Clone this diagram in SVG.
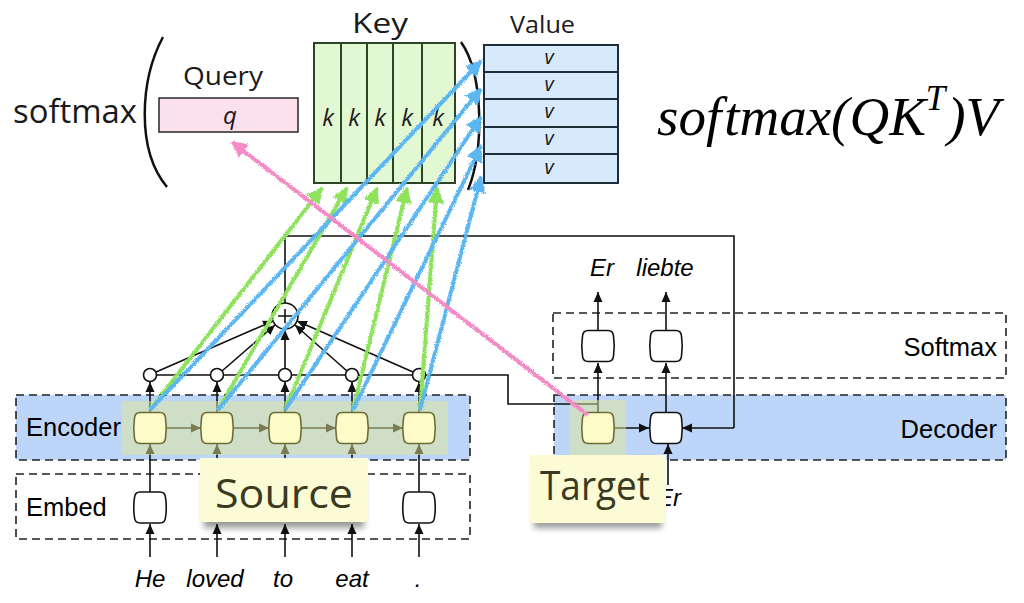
<svg xmlns="http://www.w3.org/2000/svg" width="1024" height="603" viewBox="0 0 1024 603">
<style>
.hand{font-family:"Open Sans","DejaVu Sans",sans-serif;fill:#1a1a1a}
.lbl{font-family:"Liberation Sans",Arial,sans-serif;font-size:25.5px;fill:#000}
.word{font-family:"Liberation Sans",Arial,sans-serif;font-style:italic;font-size:24px;fill:#000;text-anchor:middle}
.dash{fill:none;stroke:#222;stroke-width:1.6;stroke-dasharray:8 5}
.ln{fill:none;stroke:#111;stroke-width:1.6}
.arr{fill:none;stroke:#111;stroke-width:1.6;marker-end:url(#ah)}
.ycell{fill:#fdfcc9;stroke:#6b6b35;stroke-width:1.6}
.wcell{fill:#fff;stroke:#111;stroke-width:1.6}
.hl{fill:rgb(225,232,150);fill-opacity:0.5}
.sc{fill:#fff;stroke:#111;stroke-width:1.6}
.note{fill:#fbfbd6}
.notetext{font-family:"Open Sans","DejaVu Sans",sans-serif;font-size:40px;fill:#3a3a22}
.g{stroke:#8ee25c;stroke-width:4;fill:none;marker-end:url(#mg)}
.b{stroke:#5cb6f2;stroke-width:4;fill:none;marker-end:url(#mb)}
.p{stroke:#f48bc6;stroke-width:4;fill:none;marker-end:url(#mp)}
</style>
<defs>
<path id="cell" d="M-10,-15.5 H10 Q15,-15.5 15.5,-10 Q17,0 15.5,10 Q15,15.5 10,15.5 H-10 Q-15,15.5 -15.5,10 Q-17,0 -15.5,-10 Q-15,-15.5 -10,-15.5 Z"/>
<marker id="ah" viewBox="0 0 10 10" refX="10" refY="5" markerWidth="10" markerHeight="11" markerUnits="userSpaceOnUse" orient="auto"><path d="M0,0.5 L10,5 L0,9.5 Z" fill="#111"/></marker>
<marker id="mg" viewBox="0 0 10 10" refX="9" refY="5" markerWidth="4.2" markerHeight="4.2" orient="auto"><path d="M0,0 L10,5 L0,10 Z" fill="#8ee25c"/></marker>
<marker id="mb" viewBox="0 0 10 10" refX="9" refY="5" markerWidth="4.2" markerHeight="4.2" orient="auto"><path d="M0,0 L10,5 L0,10 Z" fill="#5cb6f2"/></marker>
<marker id="mp" viewBox="0 0 10 10" refX="9" refY="5" markerWidth="4.2" markerHeight="4.2" orient="auto"><path d="M0,0 L10,5 L0,10 Z" fill="#f48bc6"/></marker>
<filter id="crayon" filterUnits="userSpaceOnUse" x="0" y="0" width="1024" height="603">
<feTurbulence type="fractalNoise" baseFrequency="0.9" numOctaves="2" result="n"/>
<feDisplacementMap in="SourceGraphic" in2="n" scale="3.5" xChannelSelector="R" yChannelSelector="G"/>
</filter>
<filter id="shadow" x="-20%" y="-20%" width="140%" height="160%"><feGaussianBlur stdDeviation="3"/></filter>
</defs>
<rect width="1024" height="603" fill="#fff"/>

<g id="softmax-hand">
<text class="hand" x="13" y="123" font-size="32" textLength="124" lengthAdjust="spacingAndGlyphs">softmax</text>
<path d="M163,37 C140,80 136,150 167,187" fill="none" stroke="#111" stroke-width="2.5"/>
<path d="M461,42 C484,75 484,150 468,190" fill="none" stroke="#111" stroke-width="2.5"/>
</g>

<g id="query">
<text class="hand" x="183" y="85" font-size="26" textLength="80" lengthAdjust="spacingAndGlyphs">Query</text>
<rect x="159" y="98" width="139" height="34" fill="#fde0ee" stroke="#333" stroke-width="1.6"/>
<text class="hand" x="230" y="124" font-size="24" font-style="italic" text-anchor="middle">q</text>
</g>

<g id="key">
<text class="hand" x="352" y="33" font-size="28" textLength="56" lengthAdjust="spacingAndGlyphs">Key</text>
<rect x="314" y="43" width="141" height="140" fill="#e2f8d2" stroke="#2b4525" stroke-width="2"/>
<path d="M341,43 V183 M367,43 V183 M393,43 V183 M422,43 V183" stroke="#2b4525" stroke-width="2" fill="none"/>
<g class="hand" font-size="24" font-style="italic" text-anchor="middle" fill="#2b4525">
<text x="328" y="126">k</text><text x="354" y="126">k</text><text x="380" y="126">k</text><text x="407" y="126">k</text><text x="438" y="126">k</text>
</g>
</g>

<g id="value">
<text class="hand" x="510" y="33" font-size="24" textLength="65" lengthAdjust="spacingAndGlyphs">Value</text>
<rect x="484" y="45" width="134" height="138" fill="#d6eafb" stroke="#1e2d3a" stroke-width="2"/>
<path d="M484,72 H618 M484,99 H618 M484,127 H618 M484,154 H618" stroke="#1e2d3a" stroke-width="2" fill="none"/>
<g class="hand" font-size="20" font-style="italic" text-anchor="middle" fill="#1e2d3a">
<text x="549" y="64">v</text><text x="549" y="91">v</text><text x="549" y="118">v</text><text x="549" y="145">v</text><text x="549" y="174">v</text>
</g>
</g>

<g id="formula">
<text x="657" y="135" font-family="'Liberation Serif','Times New Roman',serif" font-style="italic" font-size="55" fill="#000">sof<tspan dx="3">tmax(QK</tspan><tspan font-size="35" dy="-25">T</tspan><tspan dy="25" dx="2">)V</tspan></text>
</g>

<g id="layers">
<rect id="encoder-layer" x="16" y="395" width="454" height="65" fill="#bcd5f8"/>
<rect x="16" y="395" width="454" height="65" class="dash"/>
<rect id="embed-layer" x="16" y="474" width="454" height="65" class="dash"/>
<rect id="softmax-layer" x="553" y="313" width="453" height="65" class="dash"/>
<rect id="decoder-layer" x="554" y="395" width="452" height="65" fill="#bcd5f8"/>
<rect x="554" y="395" width="452" height="65" class="dash"/>
<text class="lbl" x="26" y="436">Encoder</text>
<text class="lbl" x="26" y="516">Embed</text>
<text class="lbl" x="997" y="356" text-anchor="end">Softmax</text>
<text class="lbl" x="997" y="438" text-anchor="end">Decoder</text>
</g>

<g id="connectors">
<path class="arr" d="M150,557 V524"/>
<path class="arr" d="M217,557 V524"/>
<path class="arr" d="M285,557 V524"/>
<path class="arr" d="M352,557 V524"/>
<path class="arr" d="M419,557 V524"/>
<path class="arr" d="M150,492 V444"/>
<path class="arr" d="M217,492 V444"/>
<path class="arr" d="M285,492 V444"/>
<path class="arr" d="M352,492 V444"/>
<path class="arr" d="M419,492 V444"/>
<path class="arr" d="M166,428 H201"/>
<path class="arr" d="M233,428 H269"/>
<path class="arr" d="M301,428 H336"/>
<path class="arr" d="M368,428 H403"/>
<path class="arr" d="M150,412 V382"/>
<path class="arr" d="M217,412 V382"/>
<path class="arr" d="M285,412 V382"/>
<path class="arr" d="M352,412 V382"/>
<path class="arr" d="M419,412 V382"/>
<path class="ln" d="M150,375 H508 V404 H598"/>
<path class="arr" d="M156,372 L273,321"/>
<path class="arr" d="M222,371 L275,325"/>
<path class="arr" d="M285,368 V330"/>
<path class="arr" d="M347,371 L295,325"/>
<path class="arr" d="M413,372 L297,321"/>
<path class="ln" d="M285,303 V236 H734 V428"/>
<path class="arr" d="M734,428 H682"/>
<path class="arr" d="M614,428 H649"/>
<path class="arr" d="M598,412 V363"/>
<path class="arr" d="M666,412 V363"/>
<path class="arr" d="M598,330 V292"/>
<path class="arr" d="M666,330 V292"/>
<path class="arr" d="M668,485 V444"/>
</g>

<rect class="hl" x="122" y="401" width="326" height="54"/>
<rect class="hl" x="570" y="400" width="56" height="60"/>

<g id="embed-cells">
<use href="#cell" class="wcell" x="150" y="507.5"/>
<use href="#cell" class="wcell" x="419" y="507.5"/>
</g>
<g id="encoder-cells">
<use href="#cell" class="ycell" x="150" y="428"/>
<use href="#cell" class="ycell" x="217" y="428"/>
<use href="#cell" class="ycell" x="285" y="428"/>
<use href="#cell" class="ycell" x="352" y="428"/>
<use href="#cell" class="ycell" x="419" y="428"/>
</g>
<g id="decoder-cells">
<use href="#cell" class="ycell" x="598" y="428"/>
<use href="#cell" class="wcell" x="666" y="428"/>
</g>
<g id="softmax-cells">
<use href="#cell" class="wcell" x="598" y="346"/>
<use href="#cell" class="wcell" x="666" y="346"/>
</g>
<g id="attention">
<circle class="sc" cx="150" cy="375" r="6.5"/>
<circle class="sc" cx="217" cy="375" r="6.5"/>
<circle class="sc" cx="285" cy="375" r="6.5"/>
<circle class="sc" cx="352" cy="375" r="6.5"/>
<circle class="sc" cx="419" cy="375" r="6.5"/>
<circle class="sc" cx="285" cy="316" r="13"/>
<path class="ln" d="M278,316 H292 M285,309 V323"/>
</g>

<g id="words">
<text class="word" x="150" y="587">He</text>
<text class="word" x="215" y="587">loved</text>
<text class="word" x="283" y="587">to</text>
<text class="word" x="352" y="587">eat</text>
<text class="word" x="418" y="587">.</text>
<text class="word" x="602" y="276">Er</text>
<text class="word" x="665" y="276">liebte</text>
<text class="word" x="669" y="506">Er</text>
</g>

<g id="attention-arrows" filter="url(#crayon)">
<path class="g" d="M150,410 L322,188"/>
<path class="g" d="M218,410 L347,188"/>
<path class="g" d="M285,410 L377,188"/>
<path class="g" d="M353,410 L407,188"/>
<path class="g" d="M420,410 L437,188"/>
<path class="b" d="M150,410 L481,61"/>
<path class="b" d="M218,410 L481,89"/>
<path class="b" d="M285,410 L481,117"/>
<path class="b" d="M353,410 L481,146"/>
<path class="b" d="M420,410 L481,177"/>
<path class="p" d="M588,415 L232,142"/>
</g>

<g id="source-note">
<rect x="204" y="470" width="160" height="58" fill="#000" opacity="0.4" filter="url(#shadow)"/>
<rect class="note" x="200" y="458" width="168" height="64"/>
<text class="notetext" x="215" y="508" textLength="138" lengthAdjust="spacingAndGlyphs">Source</text>
</g>
<g id="target-note">
<rect x="534" y="468" width="128" height="60" fill="#000" opacity="0.4" filter="url(#shadow)"/>
<rect class="note" x="530" y="455" width="136" height="68"/>
<text class="notetext" x="540" y="500" textLength="110" lengthAdjust="spacingAndGlyphs">Target</text>
</g>
</svg>
